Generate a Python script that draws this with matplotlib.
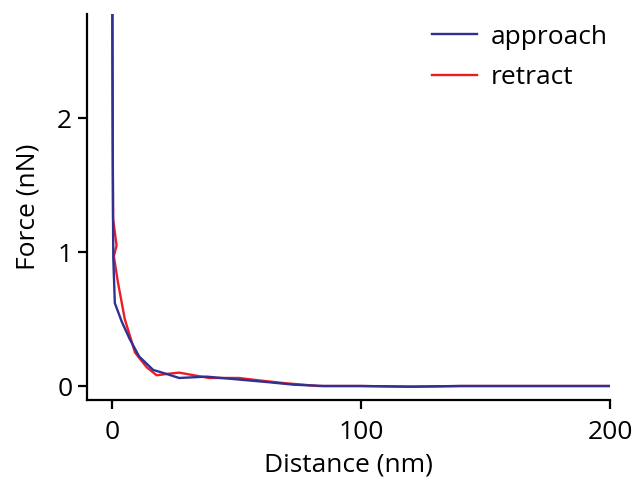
import matplotlib
matplotlib.use('Agg')
import matplotlib.pyplot as plt

plt.rcParams['font.family'] = ['Open Sans', 'DejaVu Sans']

approach_x = [0.2, 0.3, 0.4, 0.5, 0.6, 1.2, 4.0, 7.2, 11.0, 16.6, 22.0, 27.0, 38.0, 50.0, 62.0, 73.0, 85.0, 100.0, 120.0, 140.0, 160.0, 180.0, 200.0]
approach_y = [3.5, 2.5, 1.7, 1.2, 0.95, 0.62, 0.48, 0.35, 0.22, 0.12, 0.09, 0.06, 0.07, 0.05, 0.03, 0.01, 0.0, 0.0, -0.005, 0.0, 0.0, 0.0, 0.0]

retract_x = [0.0, 0.2, 0.4, 0.5, 1.9, 0.8, 2.5, 5.2, 9.3, 14.0, 18.0, 22.0, 27.0, 33.0, 39.0, 51.0, 60.0, 70.0, 83.0, 100.0, 120.0, 140.0, 160.0, 180.0, 200.0]
retract_y = [3.5, 2.4, 1.6, 1.25, 1.05, 0.97, 0.77, 0.5, 0.25, 0.14, 0.08, 0.09, 0.1, 0.08, 0.06, 0.06, 0.04, 0.02, 0.0, 0.0, -0.005, 0.0, 0.0, 0.0, 0.0]

blue = '#2e3192'
red = '#ed1c24'
fs = 19

fig = plt.figure(figsize=(6.39, 4.82), dpi=100)
ax = fig.add_axes([0.136, 0.170, 0.819, 0.801])

ax.plot(retract_x, retract_y, color=red, lw=1.7, label='retract', zorder=2)
ax.plot(approach_x, approach_y, color=blue, lw=1.7, label='approach', zorder=3)

ax.set_xlim(-10, 200)
ax.set_ylim(-0.105, 2.78)
ax.set_xticks([0, 100, 200])
ax.set_yticks([0, 1, 2])
ax.set_xlabel('Distance (nm)', fontsize=fs, labelpad=5)
ax.set_ylabel('Force (nN)', fontsize=fs, labelpad=12)
ax.tick_params(labelsize=fs, width=1.6, length=6.5, direction='out', pad=4)
ax.tick_params(axis='x', pad=8)
for s in ['top', 'right']:
    ax.spines[s].set_visible(False)
for s in ['left', 'bottom']:
    ax.spines[s].set_linewidth(1.6)

h, l = ax.get_legend_handles_labels()
ax.legend(h[::-1], l[::-1], loc='upper right', frameon=False, fontsize=fs,
          handlelength=1.7, handletextpad=0.5, labelspacing=0.6,
          borderaxespad=0.0, bbox_to_anchor=(1.015, 1.0))

fig.savefig('out.png', dpi=100)
